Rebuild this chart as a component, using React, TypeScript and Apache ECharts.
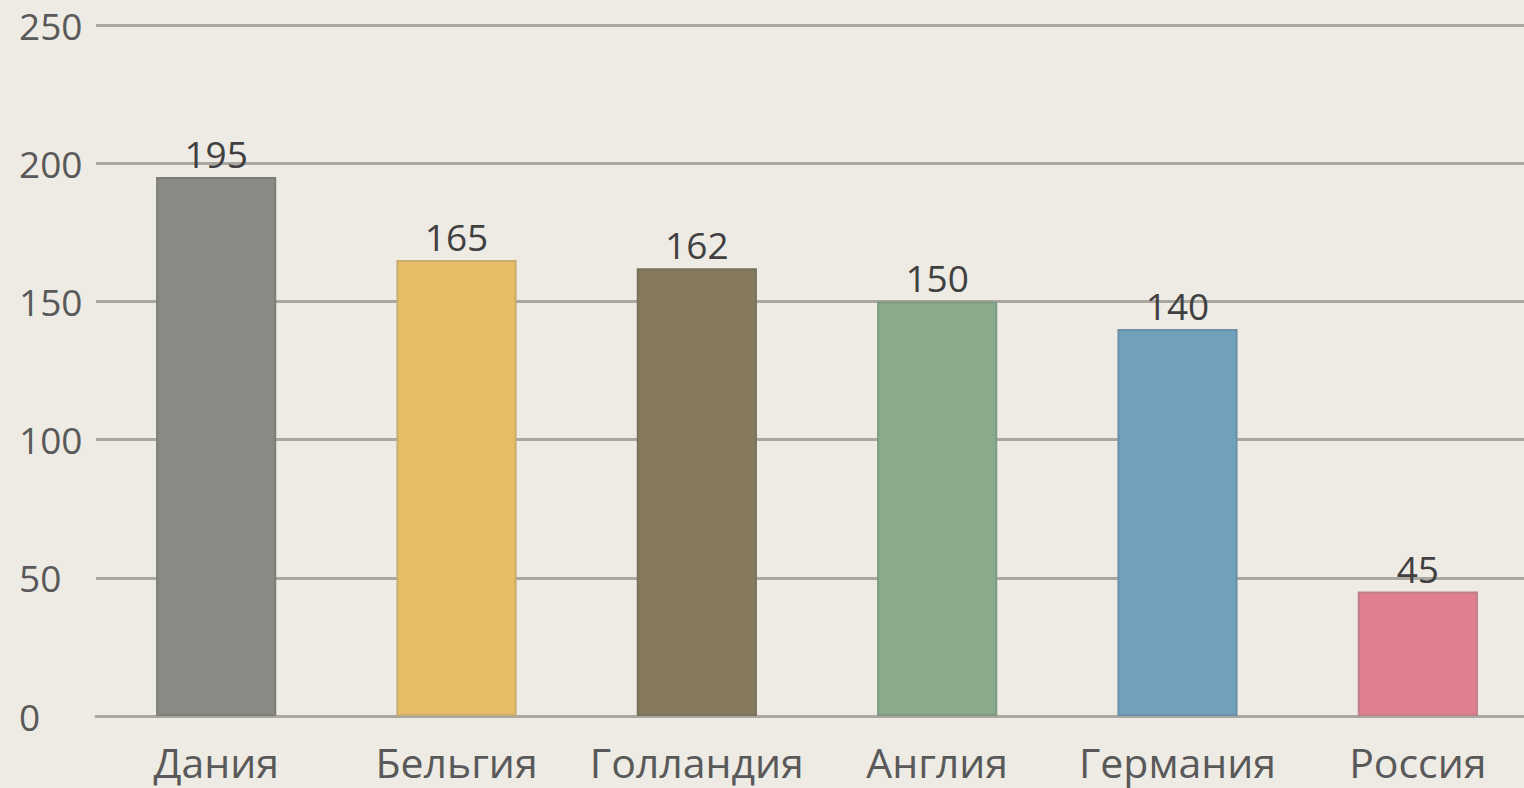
import React, { useEffect, useRef } from "react";
import * as echarts from "echarts";

const categories = ["Дания", "Бельгия", "Голландия", "Англия", "Германия", "Россия"];
const values = [195, 165, 162, 150, 140, 45];
const yTicks = [0, 50, 100, 150, 200, 250];

const barColors = ["#8A8A84", "#E5BE67", "#857A5D", "#8BAA8C", "#71A0BD", "#E07F8E"];
const borderColors = ["#7E7E79", "#C9AC6E", "#77705C", "#7E9A80", "#6B90A8", "#C27F89"];

export default function App() {
  const ref = useRef<HTMLDivElement>(null);
  useEffect(() => {
    if (!ref.current) return;
    const chart = echarts.init(ref.current, undefined, { renderer: "svg" });
    const font = "'Open Sans', 'Noto Sans', sans-serif";
    chart.setOption({
      animation: false,
      backgroundColor: "#EEEBE4",
      grid: { left: 96, top: 25, right: 2, bottom: 72, containLabel: false },
      xAxis: {
        type: "category",
        data: categories,
        axisLine: { show: true, lineStyle: { color: "#A9A7A0", width: 3 } },
        axisTick: { show: false },
        axisLabel: {
          color: "#595959",
          fontSize: 41,
          fontFamily: font,
          margin: 25,
          interval: 0,
        },
      },
      yAxis: {
        type: "value",
        min: yTicks[0],
        max: yTicks[yTicks.length - 1],
        interval: 50,
        axisLine: { show: false },
        axisTick: { show: false },
        splitLine: { show: true, lineStyle: { color: "#A9A7A0", width: 3 } },
        axisLabel: {
          color: "#595959",
          fontSize: 37,
          fontFamily: font,
          align: "left",
          margin: 77,
        },
      },
      series: [
        {
          type: "bar",
          barCategoryGap: "50%",
          data: values.map((v, i) => ({
            value: v,
            itemStyle: { color: barColors[i], borderColor: borderColors[i], borderWidth: 2 },
          })),
          label: {
            show: true,
            position: "top",
            distance: 5,
            color: "#404040",
            fontSize: 37,
            fontFamily: font,
          },
        },
      ],
    });
    return () => chart.dispose();
  }, []);
  return (
    <div
      style={{
        position: "fixed",
        left: 0,
        top: 0,
        width: 1524,
        height: 788,
        overflow: "hidden",
        background: "#EEEBE4",
      }}
    >
      <div ref={ref} style={{ width: 1540, height: 788 }} />
    </div>
  );
}
